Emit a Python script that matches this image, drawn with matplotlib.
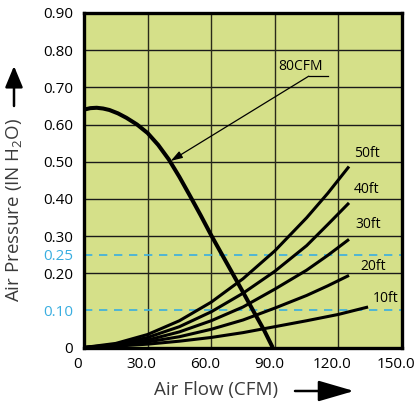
import matplotlib
matplotlib.use("Agg")
import matplotlib.pyplot as plt
from matplotlib.transforms import ScaledTranslation

plt.rcParams['font.family'] = ['Open Sans', 'DejaVu Sans']
plt.rcParams['mathtext.fontset'] = 'custom'
plt.rcParams['mathtext.rm'] = 'Open Sans'
plt.rcParams['mathtext.it'] = 'Open Sans'

# ---- data ----
fan_x = [0, 3, 6, 9, 12, 16, 20, 25, 30, 35, 40, 45, 50, 55, 60, 65, 70, 75, 80, 85, 89]
fan_y = [0.640, 0.644, 0.645, 0.643, 0.639, 0.630, 0.618, 0.600, 0.577, 0.545, 0.506,
         0.459, 0.408, 0.356, 0.302, 0.251, 0.200, 0.149, 0.097, 0.046, 0.0]

sys_x = [0, 15, 30, 45, 60, 75, 90, 105, 115, 125]
sys_50 = [0, 0.011, 0.035, 0.072, 0.122, 0.185, 0.260, 0.349, 0.415, 0.487]
sys_40 = [0, 0.008, 0.027, 0.056, 0.096, 0.146, 0.205, 0.274, 0.331, 0.389]
sys_30 = [0, 0.006, 0.020, 0.042, 0.072, 0.109, 0.157, 0.208, 0.248, 0.291]
sys_20 = [0, 0.005, 0.015, 0.029, 0.049, 0.074, 0.106, 0.140, 0.166, 0.194]
sys10_x = [0, 15, 30, 45, 60, 75, 90, 105, 120, 134]
sys_10 = [0, 0.0035, 0.009, 0.017, 0.027, 0.040, 0.056, 0.072, 0.089, 0.109]

sys_labels = ['50ft', '40ft', '30ft', '20ft', '10ft']
sys_label_x = [127.3, 127.3, 127.8, 130.3, 136.3]
sys_label_y = [0.521, 0.424, 0.330, 0.218, 0.133]

x_ticks = [0, 30, 60, 90, 120, 150]
x_tick_labels = ['0', '30.0', '60.0', '90.0', '120.0', '150.0']
y_ticks = [0, 0.10, 0.20, 0.25, 0.30, 0.40, 0.50, 0.60, 0.70, 0.80, 0.90]
y_tick_labels = ['0', '0.10', '0.20', '0.25', '0.30', '0.40', '0.50', '0.60', '0.70', '0.80', '0.90']
ref_levels = [0.10, 0.25]
h_grid = [0.2, 0.3, 0.4, 0.5, 0.6, 0.7, 0.8]
v_grid = [30, 60, 90, 120]

BG = '#d5e089'
CYAN = '#3aaee0'

fig = plt.figure(figsize=(4.19, 4.04), dpi=100)
ax = fig.add_axes([84 / 419, 1 - 347.5 / 404, (402 - 84) / 419, (347.5 - 13) / 404])
ax.set_facecolor(BG)
ax.set_xlim(0, 150)
ax.set_ylim(0, 0.9)

for g in h_grid:
    ax.axhline(g, color='#1a1a1a', lw=1.0, zorder=1)
for g in v_grid:
    ax.axvline(g, color='#2a2a1a', lw=1.0, zorder=1)
for r in ref_levels:
    ax.axhline(r, color=CYAN, lw=1.2, ls=(0, (5, 4)), zorder=1.5)

ax.plot(fan_x, fan_y, color='black', lw=2.9, solid_capstyle='butt',
        solid_joinstyle='round', zorder=4)
for ys in (sys_50, sys_40, sys_30, sys_20):
    ax.plot(sys_x, ys, color='black', lw=2.2, solid_capstyle='butt',
            solid_joinstyle='round', zorder=3)
ax.plot(sys10_x, sys_10, color='black', lw=2.2, solid_capstyle='butt',
        solid_joinstyle='round', zorder=3)

for lab, lx, ly in zip(sys_labels, sys_label_x, sys_label_y):
    ax.text(lx, ly, lab, fontsize=10, color='black', va='center', ha='left')

# 80CFM annotation
ax.plot([106, 115], [0.73, 0.73], color='black', lw=0.9, zorder=5)
ax.annotate('', xy=(40.9, 0.502), xytext=(106, 0.73),
            arrowprops=dict(arrowstyle='-|>,head_length=0.5,head_width=0.16',
                            color='black', lw=0.9, mutation_scale=14,
                            shrinkA=0, shrinkB=0), zorder=5)
ax.text(91.8, 0.755, '80CFM', fontsize=10, color='black', va='center', ha='left')

ax.set_xticks(x_ticks)
ax.set_xticklabels(x_tick_labels)
ax.set_yticks(y_ticks)
ax.set_yticklabels(y_tick_labels)
for t, v in zip(ax.get_yticklabels(), y_ticks):
    if v in ref_levels:
        t.set_color(CYAN)
ax.tick_params(length=0, labelsize=11, pad=8)
ax.tick_params(axis='x', pad=7)
shift = ScaledTranslation(-6 / 100, 0, fig.dpi_scale_trans)
for t in ax.get_xticklabels():
    t.set_transform(t.get_transform() + shift)

for s in ax.spines.values():
    s.set_linewidth(2.4)
    s.set_color('black')
    s.set_zorder(6)

# axis titles and arrows
fig.text(14 / 419, 1 - 210 / 404, 'Air Pressure (IN H$_2$O)', rotation=90,
         fontsize=13.5, color='#3a3a3a', ha='center', va='center')
fig.text(216 / 419, 1 - 390 / 404, 'Air Flow (CFM)', fontsize=13.5,
         color='#3a3a3a', ha='center', va='center')

fig.patches.append(matplotlib.patches.FancyArrowPatch(
    (14 / 419, 1 - 106 / 404), (14 / 419, 1 - 66 / 404),
    transform=fig.transFigure, arrowstyle='-|>,head_length=0.65,head_width=0.27',
    mutation_scale=20, color='black', lw=1.8, shrinkA=0, shrinkB=0))
fig.patches.append(matplotlib.patches.FancyArrowPatch(
    (295 / 419, 1 - 391 / 404), (354 / 419, 1 - 391 / 404),
    transform=fig.transFigure, arrowstyle='-|>,head_length=1.1,head_width=0.32',
    mutation_scale=20, color='black', lw=1.8, shrinkA=0, shrinkB=0))

fig.savefig('out.png', dpi=100, facecolor='white')
